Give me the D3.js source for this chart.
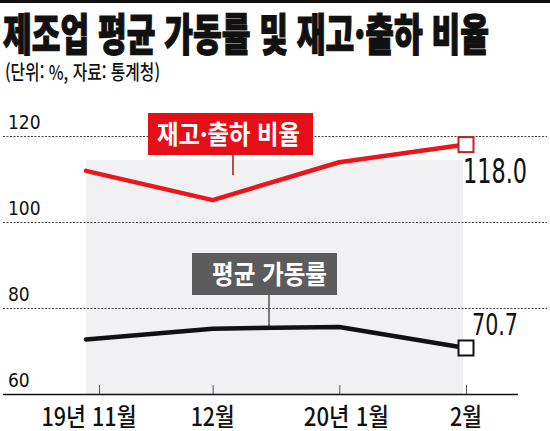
<!DOCTYPE html>
<html lang="ko">
<head>
<meta charset="utf-8">
<title>제조업 평균 가동률 및 재고·출하 비율</title>
<script src="https://d3js.org/d3.v7.min.js"></script>
<style>
  body { margin: 0; background: #fff; }
  svg { display: block; }
  .kr { font-family: "Noto Sans CJK KR", sans-serif; }
  .num { font-family: "Liberation Sans Narrow", "DejaVu Sans Condensed", "Liberation Sans", sans-serif; }
</style>
</head>
<body>
<script>
// data
const months = ["19년 11월", "12월", "20년 1월", "2월"];
const ratioValues = [111.9, 105.1, 113.9, 118.0];   // 재고·출하 비율
const rateValues = [72.7, 75.2, 75.6, 70.7];        // 평균 가동률
const yTicks = [60, 80, 100, 120];

const w = 550, h = 431;

const svg = d3.select("body").append("svg")
  .attr("width", w)
  .attr("height", h);

const x = d3.scalePoint().domain(months).range([86, 466]);
const y = d3.scaleLinear().domain([60, 120]).range([394, 136]);

// top rule
svg.append("rect").attr("x", 0).attr("y", 0).attr("width", w).attr("height", 3).attr("fill", "#111");

// title
svg.append("text")
  .attr("class", "kr")
  .attr("x", 3).attr("y", 51)
  .attr("font-size", 44).attr("font-weight", 900)
  .attr("textLength", 486).attr("lengthAdjust", "spacingAndGlyphs")
  .attr("fill", "#111").attr("stroke", "#111").attr("stroke-width", 1.2)
  .text("제조업 평균 가동률 및 재고·출하 비율");

svg.append("text")
  .attr("class", "kr")
  .attr("x", 5).attr("y", 80)
  .attr("font-size", 20).attr("font-weight", 500)
  .attr("textLength", 155).attr("lengthAdjust", "spacingAndGlyphs")
  .attr("fill", "#111")
  .text("(단위: %, 자료: 통계청)");

// shaded period
svg.append("rect")
  .attr("x", x(months[0])).attr("y", 160)
  .attr("width", 463 - x(months[0])).attr("height", y(60) - 160)
  .attr("fill", "#f1f1f3");

// grid lines
svg.selectAll(".grid")
  .data(yTicks.filter(d => d > 60))
  .enter().append("line")
  .attr("x1", 3).attr("x2", 547)
  .attr("y1", d => y(d) + 0.5).attr("y2", d => y(d) + 0.5)
  .attr("stroke", "#444").attr("stroke-width", 1)
  .attr("stroke-dasharray", "2,1.5");

// y labels
svg.selectAll(".ylab")
  .data(yTicks)
  .enter().append("text")
  .attr("class", "num")
  .attr("x", 8).attr("y", d => y(d) - 7)
  .attr("font-size", 19)
  .attr("fill", "#111")
  .text(d => d);

// x axis
svg.append("line")
  .attr("x1", 3).attr("x2", 518)
  .attr("y1", y(60) + 0.5).attr("y2", y(60) + 0.5)
  .attr("stroke", "#111").attr("stroke-width", 1.5);

svg.selectAll(".tick")
  .data(months)
  .enter().append("line")
  .attr("x1", (d, i) => x(d) + (i === 0 ? 13 : 0) + 0.5)
  .attr("x2", (d, i) => x(d) + (i === 0 ? 13 : 0) + 0.5)
  .attr("y1", y(60) - 9).attr("y2", y(60))
  .attr("stroke", "#555").attr("stroke-width", 1);

const labelWidths = { "19년 11월": 95, "12월": 44, "20년 1월": 85, "2월": 32 };
svg.selectAll(".xlab")
  .data(months)
  .enter().append("text")
  .attr("class", "kr")
  .attr("x", (d, i) => x(d) + (i === 2 ? 7 : i === 0 ? 3 : 0))
  .attr("y", 426)
  .attr("text-anchor", "middle")
  .attr("font-size", 25).attr("font-weight", 500)
  .attr("textLength", d => labelWidths[d]).attr("lengthAdjust", "spacingAndGlyphs")
  .attr("fill", "#111")
  .text(d => d);

const line = d3.line()
  .x((d, i) => x(months[i]))
  .y(d => y(d));

// callout boxes
function callout(bx, by, bw, bh, fill, lineColor, lx, ly2, label, tx, tw) {
  svg.append("line")
    .attr("x1", lx).attr("x2", lx)
    .attr("y1", by + bh).attr("y2", ly2)
    .attr("stroke", lineColor).attr("stroke-width", 1.5);
  svg.append("rect")
    .attr("x", bx).attr("y", by).attr("width", bw).attr("height", bh)
    .attr("fill", fill);
  svg.append("text")
    .attr("class", "kr")
    .attr("x", tx).attr("y", by + bh - 11)
    .attr("font-size", 26).attr("font-weight", 700)
    .attr("textLength", tw).attr("lengthAdjust", "spacingAndGlyphs")
    .attr("fill", "#fff")
    .text(label);
}

callout(148, 113, 165, 42, "#e50f18", "#a3161c", 233,
  (y(ratioValues[1]) + y(ratioValues[2])) / 2 - 6, "재고·출하 비율", 157, 143);
callout(192, 253, 145, 42, "#5c5c5c", "#555", 269,
  (y(rateValues[1]) + y(rateValues[2])) / 2 - 1, "평균 가동률", 212, 115);

// lines
svg.append("path")
  .datum(ratioValues)
  .attr("d", line)
  .attr("fill", "none")
  .attr("stroke", "#e8161d")
  .attr("stroke-width", 4.5)
  .attr("stroke-linejoin", "round")
  .attr("stroke-linecap", "round");

svg.append("path")
  .datum(rateValues)
  .attr("d", line)
  .attr("fill", "none")
  .attr("stroke", "#111")
  .attr("stroke-width", 4.5)
  .attr("stroke-linejoin", "round")
  .attr("stroke-linecap", "round");

// end markers
const last = months.length - 1;
svg.append("rect")
  .attr("x", x(months[last]) - 7.5).attr("y", y(ratioValues[last]) - 7.5)
  .attr("width", 15).attr("height", 15)
  .attr("fill", "#fff").attr("stroke", "#c41e26").attr("stroke-width", 2);
svg.append("rect")
  .attr("x", x(months[last]) - 7.5).attr("y", y(rateValues[last]) - 7.5)
  .attr("width", 15).attr("height", 15)
  .attr("fill", "#fff").attr("stroke", "#111").attr("stroke-width", 2);

// end value labels
svg.append("text")
  .attr("class", "num")
  .attr("x", 463).attr("y", y(ratioValues[last]) + 38)
  .attr("font-size", 34)
  .attr("textLength", 64).attr("lengthAdjust", "spacingAndGlyphs")
  .attr("fill", "#111")
  .text(ratioValues[last].toFixed(1));

svg.append("text")
  .attr("class", "num")
  .attr("x", 472).attr("y", y(rateValues[last]) - 13)
  .attr("font-size", 30)
  .attr("textLength", 46).attr("lengthAdjust", "spacingAndGlyphs")
  .attr("fill", "#111")
  .text(rateValues[last].toFixed(1));
</script>
</body>
</html>
